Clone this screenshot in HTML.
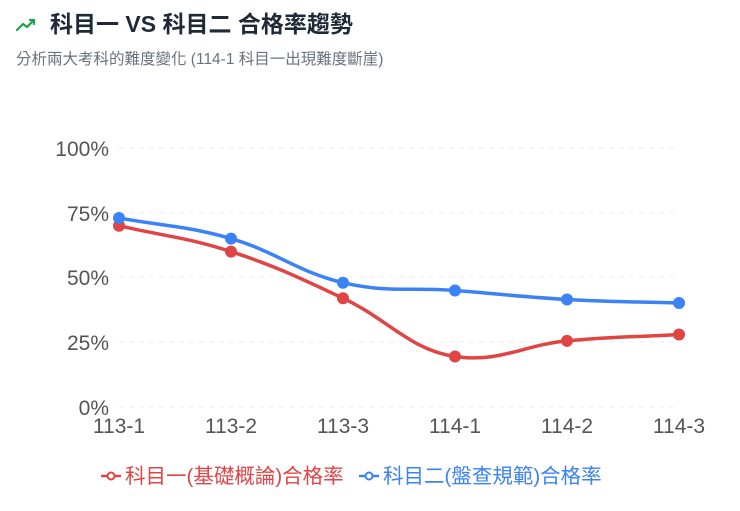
<!DOCTYPE html>
<html><head><meta charset="utf-8"><style>
body{margin:0;background:#fff;width:740px;height:511px;overflow:hidden;font-family:"Liberation Sans","Noto Sans CJK TC",sans-serif;}
</style></head><body>
<svg width="740" height="511" xmlns="http://www.w3.org/2000/svg" style="position:absolute;left:0;top:0">
<polyline points="17,30 23,24 27,27 34,20" fill="none" stroke="#16a34a" stroke-width="2.2" stroke-linecap="round" stroke-linejoin="round"/>
<polyline points="30,20 34,20 34,24" fill="none" stroke="#16a34a" stroke-width="2.2" stroke-linecap="round" stroke-linejoin="round"/>
<text x="50" y="32" font-size="23" font-weight="bold" fill="#1f2937" font-family="Liberation Sans,Noto Sans CJK TC,sans-serif">科目一 VS 科目二 合格率趨勢</text>
<text x="16" y="64" font-size="15.5" fill="#6b7280" font-family="Liberation Sans,Noto Sans CJK TC,sans-serif">分析兩大考科的難度變化 (114-1 科目一出現難度斷崖)</text>
<g stroke="#eeeeee" stroke-width="1" stroke-dasharray="5,5">
<line x1="119" y1="148" x2="679" y2="148"/><line x1="119" y1="213" x2="679" y2="213"/>
<line x1="119" y1="277" x2="679" y2="277"/><line x1="119" y1="342" x2="679" y2="342"/>
<line x1="119" y1="407" x2="679" y2="407"/></g>
<g font-size="21" fill="#555" text-anchor="end" font-family="Liberation Sans,sans-serif">
<text x="109" y="156">100%</text><text x="109" y="221">75%</text><text x="109" y="285">50%</text><text x="109" y="350">25%</text><text x="109" y="415">0%</text></g>
<g font-size="21" fill="#555" text-anchor="middle" font-family="Liberation Sans,sans-serif">
<text x="119" y="433">113-1</text><text x="231" y="433">113-2</text><text x="343" y="433">113-3</text><text x="455" y="433">114-1</text><text x="567" y="433">114-2</text><text x="679" y="433">114-3</text></g>
<path d="M119,225.7 C163.8,236.1 186.2,237.1 231,251.6 C275.8,266.1 298.2,277.2 343,298.2 C387.8,319.2 410.2,350 455,356.5 C499.8,363 522.2,345.3 567,340.9 C611.8,336.5 634.2,337.1 679,334.5" fill="none" stroke="#e04444" stroke-width="3.5"/>
<path d="M119,218 C163.8,226.2 186.2,225.7 231,238.6 C275.8,251.5 298.2,272.3 343,282.7 C387.8,293.1 410.2,287.1 455,290.5 C499.8,293.9 522.2,297 567,299.5 C611.8,302 634.2,301.6 679,303" fill="none" stroke="#3b82f6" stroke-width="3.5"/>
<g fill="#e04444"><circle cx="119" cy="225.7" r="6"/><circle cx="231" cy="251.6" r="6"/><circle cx="343" cy="298.2" r="6"/><circle cx="455" cy="356.5" r="6"/><circle cx="567" cy="340.9" r="6"/><circle cx="679" cy="334.5" r="6"/></g>
<g fill="#3b82f6"><circle cx="119" cy="218" r="6"/><circle cx="231" cy="238.6" r="6"/><circle cx="343" cy="282.7" r="6"/><circle cx="455" cy="290.5" r="6"/><circle cx="567" cy="299.5" r="6"/><circle cx="679" cy="303" r="6"/></g>
<line x1="101" y1="476" x2="121" y2="476" stroke="#e04444" stroke-width="2.5"/><circle cx="111" cy="476" r="3.5" fill="#fff" stroke="#e04444" stroke-width="2"/>
<text x="125" y="483" font-size="20.5" fill="#e04444" font-family="Liberation Sans,Noto Sans CJK TC,sans-serif">科目一(基礎概論)合格率</text>
<line x1="359" y1="476" x2="379" y2="476" stroke="#3b82f6" stroke-width="2.5"/><circle cx="369" cy="476" r="3.5" fill="#fff" stroke="#3b82f6" stroke-width="2"/>
<text x="383" y="483" font-size="20.5" fill="#3b82f6" font-family="Liberation Sans,Noto Sans CJK TC,sans-serif">科目二(盤查規範)合格率</text>
</svg>
</body></html>
